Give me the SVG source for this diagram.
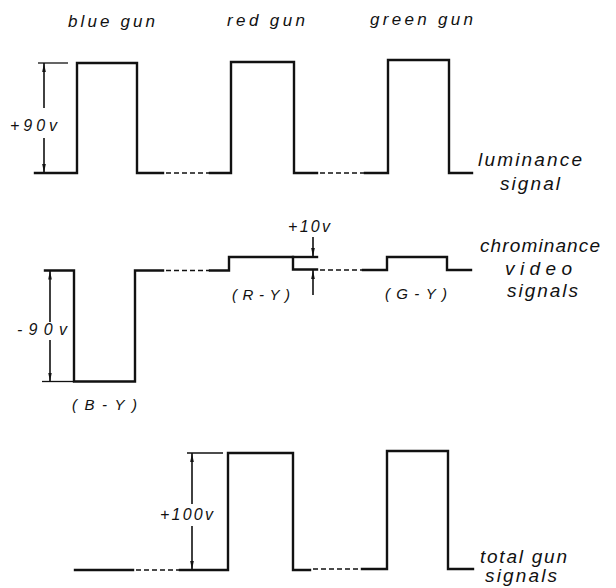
<svg xmlns="http://www.w3.org/2000/svg" width="616" height="588" viewBox="0 0 616 588">
<style>
.sig{fill:none;stroke:#111;stroke-width:2.4;stroke-linejoin:miter;stroke-linecap:square}
.dash{fill:none;stroke:#111;stroke-width:1.5;stroke-dasharray:5 3}
.dim{fill:none;stroke:#111;stroke-width:1.6}
.ext{fill:none;stroke:#111;stroke-width:1.3}
text{font-family:"Liberation Sans",Arial,sans-serif;font-style:italic;fill:#111}
.t{font-size:17px}
.r{font-size:19px}
.s{font-size:16px}
.p{font-size:15px}
</style>
<defs>
<marker id="ah" viewBox="0 0 10 4" refX="10" refY="2" markerWidth="9" markerHeight="4" markerUnits="userSpaceOnUse" orient="auto">
<path d="M0,0 L10,2 L0,4 Z" fill="#111"/>
</marker>
</defs>
<rect width="616" height="588" fill="#fff"/>

<g id="titles">
<text class="t" x="68" y="27" textLength="87" lengthAdjust="spacing">blue gun</text>
<text class="t" x="227" y="26" textLength="78" lengthAdjust="spacing">red gun</text>
<text class="t" x="370" y="25" textLength="103" lengthAdjust="spacing">green gun</text>
</g>

<g id="luminance">
<path class="sig" d="M35,173 H77 V63 H137 V173 H163"/>
<path class="dash" d="M166,173 H210"/>
<path class="sig" d="M210,173 H231 V62 H294 V173 H317"/>
<path class="dash" d="M320,173 H365"/>
<path class="sig" d="M365,173 H388 V60 H449 V173 H472"/>
<text class="r" x="478" y="166" textLength="104" lengthAdjust="spacing">luminance</text>
<text class="r" x="500" y="190" textLength="60" lengthAdjust="spacing">signal</text>
</g>

<g id="chrominance">
<path class="sig" d="M45,270.5 H74 V381.5 H135 V270.5 H163"/>
<path class="ext" d="M42,381.5 H74"/>
<path class="dash" d="M166,270.5 H210"/>
<path class="sig" d="M210,270.5 H229 V257 H293 V269.5 H317"/>
<path class="sig" d="M293,257 H317"/>
<path class="dash" d="M320,270 H363"/>
<path class="sig" d="M363,270 H387 V257 H447 V270 H471"/>
<text class="p" x="72" y="410" textLength="65" lengthAdjust="spacing">(B-Y)</text>
<text class="p" x="232" y="300" textLength="58" lengthAdjust="spacing">(R-Y)</text>
<text class="p" x="385" y="299" textLength="62" lengthAdjust="spacing">(G-Y)</text>
<text class="r" x="480" y="252" textLength="120" lengthAdjust="spacing">chrominance</text>
<text class="r" x="505" y="275" textLength="67" lengthAdjust="spacing">video</text>
<text class="r" x="507" y="297" textLength="71" lengthAdjust="spacing">signals</text>
</g>

<g id="total">
<path class="sig" d="M75,570 H133"/>
<path class="dash" d="M136,570 H180"/>
<path class="sig" d="M180,570 H228 V453 H293 V570 H310"/>
<path class="dash" d="M313,569 H362"/>
<path class="sig" d="M362,569 H387 V451 H448 V569 H473"/>
<text class="r" x="480" y="563" textLength="87" lengthAdjust="spacing">total gun</text>
<text class="r" x="485" y="582" textLength="72" lengthAdjust="spacing">signals</text>
</g>

<g id="connectors">
<path class="ext" d="M38,63 H68"/>
<line class="dim" x1="44" y1="108" x2="44" y2="63" marker-end="url(#ah)"/>
<line class="dim" x1="44" y1="138" x2="44" y2="173" marker-end="url(#ah)"/>
<text class="s" x="10" y="131" textLength="47" lengthAdjust="spacing">+90v</text>

<line class="dim" x1="50" y1="322" x2="50" y2="270.5" marker-end="url(#ah)"/>
<line class="dim" x1="50" y1="340" x2="50" y2="381.5" marker-end="url(#ah)"/>
<text class="s" x="17" y="335" textLength="50" lengthAdjust="spacing">-90v</text>

<line class="dim" x1="313" y1="237" x2="313" y2="257" marker-end="url(#ah)"/>
<line class="dim" x1="313" y1="295" x2="313" y2="270" marker-end="url(#ah)"/>
<text class="s" x="288" y="232" textLength="42" lengthAdjust="spacing">+10v</text>

<path class="ext" d="M187,453 H223"/>
<line class="dim" x1="192" y1="504" x2="192" y2="453" marker-end="url(#ah)"/>
<line class="dim" x1="192" y1="526" x2="192" y2="570" marker-end="url(#ah)"/>
<text class="s" x="160" y="520" textLength="53" lengthAdjust="spacing">+100v</text>
</g>
</svg>
